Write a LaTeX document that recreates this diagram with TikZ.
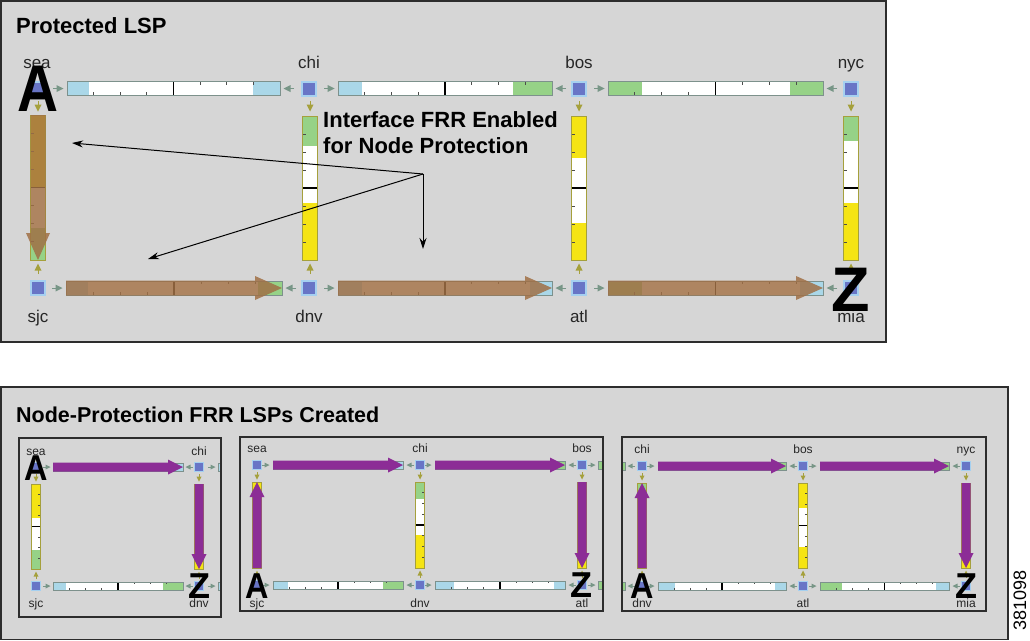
\documentclass[tikz,border=0pt]{standalone}
\usepackage{fontspec}
\usepackage{graphicx}
\setmainfont{Liberation Sans}
\usetikzlibrary{calc,arrows.meta}

\definecolor{panel}{RGB}{214,214,214}
\definecolor{panelborder}{RGB}{45,45,45}
\definecolor{nodeblue}{RGB}{104,117,198}
\definecolor{halo}{RGB}{165,208,240}
\definecolor{lblue}{RGB}{170,215,232}
\definecolor{lgreen}{RGB}{150,210,135}
\definecolor{lyellow}{RGB}{245,228,20}
\definecolor{barborder}{RGB}{125,145,140}
\definecolor{marker}{RGB}{120,150,135}
\definecolor{oliveb}{RGB}{165,160,60}
\definecolor{lspbrown}{RGB}{160,112,70}
\definecolor{lsppurple}{RGB}{140,45,150}

\newcommand{\FSz}[1]{\fontsize{#1}{#1}\selectfont}
\newcommand{\vts}{-1}

% horizontal link bar: x1 x2 y halfheight leftcolor leftend rightcolor rightstart
\newcommand{\HBar}[8]{%
  \fill[white] (#1,{#3-#4}) rectangle (#2,{#3+#4});
  \fill[#5] (#1,{#3-#4}) rectangle (#6,{#3+#4});
  \fill[#7] (#8,{#3-#4}) rectangle (#2,{#3+#4});
  \foreach \f in {0.125,0.25,0.375} {
    \draw[black!70, line width=0.8] ({#1+(#2-#1)*\f},{#3+#4}) -- ++(0,{-#4*0.45});
    \draw[black!70, line width=0.8] ({#1+(#2-#1)*(\f+0.5)},{#3-#4}) -- ++(0,{#4*0.45});
  }
  \draw[black, line width=1.2] ({(#1+#2)/2},{#3-#4}) -- ({(#1+#2)/2},{#3+#4});
  \draw[barborder, line width=1] (#1,{#3-#4}) rectangle (#2,{#3+#4});
}
% vertical link bar: x y1 y2 halfwidth topcolor topend bottomcolor bottomstart border
\newcommand{\VBar}[9]{%
  \fill[white] ({#1-#4},#2) rectangle ({#1+#4},#3);
  \fill[#5] ({#1-#4},#2) rectangle ({#1+#4},#6);
  \fill[#7] ({#1-#4},#8) rectangle ({#1+#4},#3);
  \foreach \f in {0.125,0.25,0.375,0.625,0.75,0.875} {
    \draw[black!70, line width=0.8] ({#1+\vts*#4},{#2+(#3-#2)*\f}) -- ++({-\vts*#4*0.45},0);
  }
  \draw[black, line width=1.2] ({#1-#4},{(#2+#3)/2}) -- ({#1+#4},{(#2+#3)/2});
  \draw[#9, line width=1] ({#1-#4},#2) rectangle ({#1+#4},#3);
}
% interface markers: x y size color
\newcommand{\MkR}[4]{\fill[#4] ({#1-#3},{#2-#3}) -- ({#1+#3},#2) -- ({#1-#3},{#2+#3}) -- cycle;
  \draw[#4, line width=1] ({#1-2*#3},#2) -- (#1,#2);}
\newcommand{\MkL}[4]{\fill[#4] ({#1+#3},{#2-#3}) -- ({#1-#3},#2) -- ({#1+#3},{#2+#3}) -- cycle;
  \draw[#4, line width=1] ({#1+2*#3},#2) -- (#1,#2);}
\newcommand{\MkD}[4]{\fill[#4] ({#1-#3},{#2-#3}) -- (#1,{#2+#3}) -- ({#1+#3},{#2-#3}) -- cycle;
  \draw[#4, line width=1] (#1,{#2-2*#3}) -- (#1,#2);}
\newcommand{\MkU}[4]{\fill[#4] ({#1-#3},{#2+#3}) -- (#1,{#2-#3}) -- ({#1+#3},{#2+#3}) -- cycle;
  \draw[#4, line width=1] (#1,{#2+2*#3}) -- (#1,#2);}
% LSP arrow polygon: x1 y1 x2 y2 shafthalf headhalf headlength style
\newcommand{\LspArrow}[8]{%
  \coordinate (aS) at (#1,#2);
  \coordinate (aE) at (#3,#4);
  \coordinate (aB) at ($(aE)!#7pt!(aS)$);
  \fill[#8] ($(aS)!#5pt!90:(aE)$) -- ($(aB)!#5pt!90:(aE)$) -- ($(aB)!#6pt!90:(aE)$) -- (aE)
     -- ($(aB)!#6pt!-90:(aE)$) -- ($(aB)!#5pt!-90:(aE)$) -- ($(aS)!#5pt!-90:(aE)$) -- cycle;
}

\tikzset{
  router/.style={rectangle, fill=nodeblue, draw=halo, line width=2, minimum size=14, inner sep=0},
  srouter/.style={rectangle, fill=nodeblue, draw=halo, line width=1.5, minimum size=9, inner sep=0},
  lbl/.style={font=\FSz{17}, text=black!85, inner sep=0, anchor=base},
  slbl/.style={font=\FSz{12}, text=black!85, inner sep=0, anchor=base},
  bigA/.style={font=\FSz{66}\bfseries, inner sep=0},
  smallA/.style={font=\FSz{36}\bfseries, inner sep=0},
  ptitle/.style={font=\FSz{22}\bfseries, inner sep=0, anchor=base west},
  anno/.style={font=\FSz{22}\bfseries, inner sep=0, anchor=base west},
  annoarrow/.style={-{Stealth[length=11pt,width=7pt]}, line width=1},
  panelbox/.style={fill=panel, draw=panelborder, line width=1.5},
  brownlsp/.style={fill=lspbrown, fill opacity=0.85},
  purplelsp/.style={fill=lsppurple},
}

\begin{document}
\begin{tikzpicture}[x=1pt,y=-1pt]
\useasboundingbox (0,0) rectangle (1030,640);
\fill[white] (0,0) rectangle (1030,640);

% ================= TOP PANEL =================
\draw[panelbox] (0.75,0.75) rectangle (886,342);
\node[ptitle] (ttop) at (16,33) {Protected LSP};

% horizontal bars
\HBar{67}{280}{88.5}{7}{lblue}{89}{lblue}{253}
\HBar{338}{552}{88.5}{7}{lblue}{362}{lgreen}{513}
\HBar{608}{823}{88.5}{7}{lgreen}{642}{lgreen}{790}
\HBar{66}{282}{288}{7}{lblue}{88}{lgreen}{258}
\HBar{338}{552}{288}{7}{lblue}{362}{lblue}{530}
\HBar{608}{823}{288}{7}{lgreen}{642}{lblue}{800}
% vertical bars
\VBar{38}{115}{260}{7.5}{lyellow}{187}{lgreen}{228}{oliveb}
\VBar{310}{116}{260}{7.5}{lgreen}{146}{lyellow}{203}{oliveb}
\VBar{579}{116}{260}{7.5}{lyellow}{158}{lyellow}{223}{oliveb}
\VBar{851}{116}{260}{7.5}{lgreen}{141}{lyellow}{203}{oliveb}
% markers
\foreach \a/\b/\y in {67/280/88.5,338/552/88.5,608/823/88.5,66/282/288,338/552/288,608/823/288}{
  \MkR{\a-7}{\y}{3.5}{marker}
  \MkL{\b+7}{\y}{3.5}{marker}
}
\foreach \x in {38,310,579,851}{
  \MkD{\x}{108}{3.5}{oliveb}
  \MkU{\x}{267}{3.5}{oliveb}
}
% protected LSP path
\LspArrow{38}{115}{38}{260}{7.5}{12}{27}{brownlsp}
\LspArrow{66}{288}{282}{288}{7.5}{12}{27}{brownlsp}
\LspArrow{338}{288}{552}{288}{7.5}{12}{27}{brownlsp}
\LspArrow{608}{288}{823}{288}{7.5}{12}{27}{brownlsp}

% routers
\node[router] (sea) at (38,88.5) {};
\node[router] (chi) at (309,88.5) {};
\node[router] (bos) at (579,88.5) {};
\node[router] (nyc) at (851,88.5) {};
\node[router] (sjc) at (38,288) {};
\node[router] (dnv) at (309,288) {};
\node[router] (atl) at (579,288) {};
\node[router] (mia) at (851,288) {};
% labels
\node[lbl] (lsea) at (37,68) {sea};
\node[lbl] (lchi) at (309,68) {chi};
\node[lbl] (lbos) at (579,68) {bos};
\node[lbl] (lnyc) at (851,68) {nyc};
\node[lbl] (lsjc) at (38,322) {sjc};
\node[lbl] (ldnv) at (309,322) {dnv};
\node[lbl] (latl) at (579,322) {atl};
\node[lbl] (lmia) at (851,322) {mia};
% A and Z
\node[bigA] (Atop) at (37.5,89) {\scalebox{0.86}[1]{A}};
\node[bigA, font=\FSz{63}\bfseries] (Ztop) at (851,290) {Z};

% annotation
\node[anno] (an1) at (323,127) {Interface FRR Enabled};
\node[anno] (an2) at (323,153) {for Node Protection};
\coordinate (hub) at (423,174);
\coordinate (t1) at (72,143);
\coordinate (t2) at (148,259);
\coordinate (t3) at (423,249);
\draw[annoarrow] (hub) -- (t1);
\draw[annoarrow] (hub) -- (t2);
\draw[annoarrow] (hub) -- (t3);

% ================= BOTTOM PANEL =================
\draw[panelbox] (0.75,387) rectangle (1008,639.25);
\node[ptitle, font=\FSz{21.5}\bfseries] (tbot) at (16,422) {Node-Protection FRR LSPs Created};
\node[font=\FSz{18}, rotate=90, inner sep=0] (fig) at (1020,600) {381098};

\renewcommand{\vts}{1}

% ----- sub panel 1 -----
\fill[panel] (19,438) rectangle (221,617);
\begin{scope}
\clip (19,438) rectangle (221,617);
\HBar{53}{183}{467}{4}{lblue}{60}{lblue}{176}
\HBar{53}{183}{586}{4}{lblue}{66}{lgreen}{163}
\HBar{218}{350}{467}{4}{lblue}{232}{lblue}{330}
\HBar{218}{350}{586}{4}{lblue}{232}{lblue}{330}
\VBar{36}{484}{569}{4.5}{lyellow}{518}{lgreen}{550}{oliveb}
\VBar{199}{484}{569}{4.5}{lyellow}{500}{lyellow}{555}{oliveb}
\foreach \y in {467,586}{
  \MkR{48}{\y}{2.5}{marker}
  \MkL{188}{\y}{2.5}{marker}
  \MkR{213}{\y}{2.5}{marker}
}
\foreach \x in {36,199}{
  \MkD{\x}{479}{2.5}{oliveb}
  \MkU{\x}{574}{2.5}{oliveb}
}
\LspArrow{53}{467}{183}{467}{4.5}{7.5}{15}{purplelsp}
\LspArrow{199}{484}{199}{569}{4.5}{7.5}{15}{purplelsp}
\node[srouter] (p1sea) at (36,467) {};
\node[srouter] (p1chi) at (199,467) {};
\node[srouter] (p1sjc) at (36,586) {};
\node[srouter] (p1dnv) at (199,586) {};
\node[slbl] (p1lsea) at (36,455) {sea};
\node[slbl] (p1lchi) at (199,455) {chi};
\node[slbl] (p1lsjc) at (36,607) {sjc};
\node[slbl] (p1ldnv) at (199,607) {dnv};
\node[smallA] (p1A) at (36,468) {\scalebox{0.9}[1]{A}};
\node[smallA] (p1Z) at (199,586) {Z};
\end{scope}
\draw[panelborder, line width=1.5] (19,438) rectangle (221,617);

% ----- sub panel 2 -----
\fill[panel] (240,437) rectangle (603,611);
\begin{scope}
\clip (240,437) rectangle (603,611);
\HBar{273}{403}{465}{4}{lblue}{288}{lblue}{395}
\HBar{435}{565}{465}{4}{lgreen}{450}{lgreen}{555}
\HBar{273}{403}{585}{4}{lblue}{288}{lgreen}{383}
\HBar{435}{565}{585}{4}{lblue}{454}{lblue}{554}
\HBar{598}{730}{465}{4}{lgreen}{612}{lgreen}{720}
\HBar{598}{730}{585}{4}{lgreen}{612}{lgreen}{720}
\VBar{257}{482}{568}{4.5}{lyellow}{495}{lyellow}{550}{oliveb}
\VBar{420}{482}{568}{4.5}{lgreen}{499}{lyellow}{535}{oliveb}
\VBar{582}{482}{568}{4.5}{lyellow}{500}{lyellow}{555}{oliveb}
\foreach \a/\b in {273/403,435/565}{
  \foreach \y in {465,585}{
    \MkR{\a-6}{\y}{2.5}{marker}
    \MkL{\b+6}{\y}{2.5}{marker}
  }
}
\MkR{593}{465}{2.5}{marker}
\MkR{593}{585}{2.5}{marker}
\foreach \x in {257,420,582}{
  \MkD{\x}{477}{2.5}{oliveb}
  \MkU{\x}{573}{2.5}{oliveb}
}
\LspArrow{257}{568}{257}{482}{4.5}{7.5}{15}{purplelsp}
\LspArrow{273}{465}{403}{465}{4.5}{7.5}{15}{purplelsp}
\LspArrow{435}{465}{565}{465}{4.5}{7.5}{15}{purplelsp}
\LspArrow{582}{482}{582}{568}{4.5}{7.5}{15}{purplelsp}
\node[srouter] (p2sea) at (257,465) {};
\node[srouter] (p2chi) at (420,465) {};
\node[srouter] (p2bos) at (582,465) {};
\node[srouter] (p2sjc) at (257,585) {};
\node[srouter] (p2dnv) at (420,585) {};
\node[srouter] (p2atl) at (582,585) {};
\node[slbl] (p2lsea) at (257,452) {sea};
\node[slbl] (p2lchi) at (420,452) {chi};
\node[slbl] (p2lbos) at (582,452) {bos};
\node[slbl] (p2lsjc) at (257,607) {sjc};
\node[slbl] (p2ldnv) at (420,607) {dnv};
\node[slbl] (p2latl) at (582,607) {atl};
\node[smallA] (p2A) at (257,586) {\scalebox{0.9}[1]{A}};
\node[smallA] (p2Z) at (581,585) {Z};
\end{scope}
\draw[panelborder, line width=1.5] (240,437) rectangle (603,611);

% ----- sub panel 3 -----
\fill[panel] (622,437) rectangle (986,611);
\begin{scope}
\clip (622,437) rectangle (986,611);
\HBar{495}{625}{466}{4}{lblue}{510}{lgreen}{605}
\HBar{495}{625}{586}{4}{lblue}{510}{lgreen}{605}
\HBar{658}{786}{466}{4}{lgreen}{672}{lgreen}{776}
\HBar{820}{949}{466}{4}{lgreen}{834}{lgreen}{939}
\HBar{658}{786}{586}{4}{lblue}{675}{lblue}{775}
\HBar{820}{949}{586}{4}{lgreen}{842}{lblue}{936}
\VBar{642}{483}{568}{4.5}{lgreen}{500}{lyellow}{555}{oliveb}
\VBar{803}{483}{568}{4.5}{lyellow}{508}{lyellow}{547}{oliveb}
\VBar{966}{483}{568}{4.5}{lyellow}{495}{lyellow}{555}{oliveb}
\MkL{630}{466}{2.5}{marker}
\MkL{630}{586}{2.5}{marker}
\foreach \a/\b in {658/786,820/949}{
  \foreach \y in {466,586}{
    \MkR{\a-6}{\y}{2.5}{marker}
    \MkL{\b+6}{\y}{2.5}{marker}
  }
}
\foreach \x in {642,803,966}{
  \MkD{\x}{478}{2.5}{oliveb}
  \MkU{\x}{573}{2.5}{oliveb}
}
\LspArrow{642}{568}{642}{483}{4.5}{7.5}{15}{purplelsp}
\LspArrow{658}{466}{786}{466}{4.5}{7.5}{15}{purplelsp}
\LspArrow{820}{466}{949}{466}{4.5}{7.5}{15}{purplelsp}
\LspArrow{966}{483}{966}{568}{4.5}{7.5}{15}{purplelsp}
\node[srouter] (p3chi) at (642,466) {};
\node[srouter] (p3bos) at (803,466) {};
\node[srouter] (p3nyc) at (966,466) {};
\node[srouter] (p3dnv) at (642,586) {};
\node[srouter] (p3atl) at (803,586) {};
\node[srouter] (p3mia) at (966,586) {};
\node[slbl] (p3lchi) at (642,453) {chi};
\node[slbl] (p3lbos) at (803,453) {bos};
\node[slbl] (p3lnyc) at (966,453) {nyc};
\node[slbl] (p3ldnv) at (642,607) {dnv};
\node[slbl] (p3latl) at (803,607) {atl};
\node[slbl] (p3lmia) at (966,607) {mia};
\node[smallA] (p3A) at (642,586) {\scalebox{0.9}[1]{A}};
\node[smallA] (p3Z) at (966,586) {Z};
\end{scope}
\draw[panelborder, line width=1.5] (622,437) rectangle (986,611);

\end{tikzpicture}
\end{document}
